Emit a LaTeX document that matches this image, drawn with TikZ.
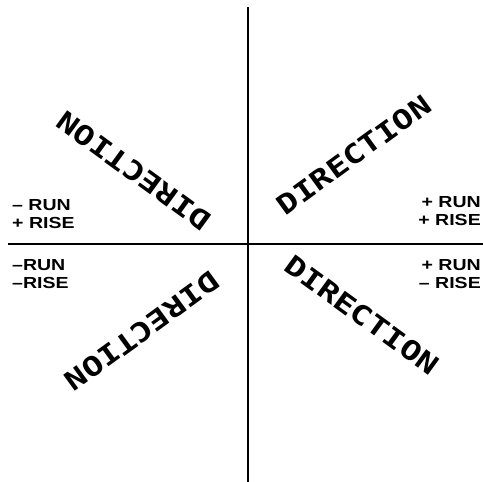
\documentclass[tikz,border=0pt]{standalone}
\usepackage{fontspec}
\setmainfont{Liberation Sans}
\newfontfamily\dirfont{DejaVu Sans Mono}
\begin{document}
\begin{tikzpicture}[x=1pt,y=-1pt,
  axis/.style={line width=2.2pt,black},
  dirlabel/.style={inner sep=0pt,font=\dirfont\bfseries\fontsize{27}{27}\selectfont},
  sign/.style={inner sep=0pt,font=\bfseries\fontsize{16}{16}\selectfont}]
\useasboundingbox (0,0) rectangle (483,482);
\coordinate (vtop) at (248,7);
\coordinate (vbot) at (248,482);
\coordinate (hleft) at (8,244);
\coordinate (hright) at (483,244);
\draw[axis] (vtop) -- (vbot);
\draw[axis] (hleft) -- (hright);
% DIRECTION labels
\node[dirlabel,rotate=36]  (dur) at (354,155) {\scalebox{1.25}[1]{DIRECTION}};
\node[dirlabel,rotate=-36] (dlr) at (362,315) {\scalebox{1.25}[1]{DIRECTION}};
\node[dirlabel,rotate=144] (dul) at (134,171) {\scalebox{1.25}[1]{DIRECTION}};
\node[dirlabel,rotate=216] (dll) at (142,331) {\scalebox{1.25}[1]{DIRECTION}};
% sign labels, left
\node[sign,anchor=base west] (l1) at (12,210) {\scalebox{1.22}[1]{– RUN}};
\node[sign,anchor=base west] (l2) at (12,228) {\scalebox{1.22}[1]{+ RISE}};
\node[sign,anchor=base west] (l3) at (12,270) {\scalebox{1.22}[1]{–RUN}};
\node[sign,anchor=base west] (l4) at (12,288) {\scalebox{1.22}[1]{–RISE}};
% sign labels, right
\node[sign,anchor=base east] (r1) at (481,207) {\scalebox{1.22}[1]{+ RUN}};
\node[sign,anchor=base east] (r2) at (481,225) {\scalebox{1.22}[1]{+ RISE}};
\node[sign,anchor=base east] (r3) at (481,270) {\scalebox{1.22}[1]{+ RUN}};
\node[sign,anchor=base east] (r4) at (481,288) {\scalebox{1.22}[1]{– RISE}};
\end{tikzpicture}
\end{document}
